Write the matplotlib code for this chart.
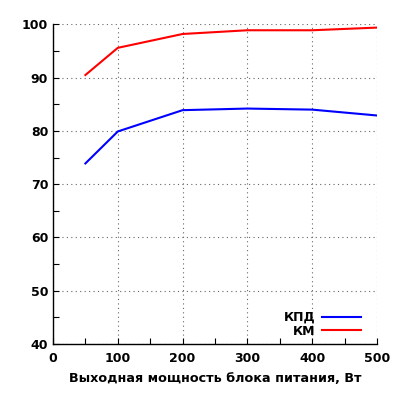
import matplotlib
matplotlib.use("Agg")
import matplotlib.pyplot as plt
from matplotlib.ticker import MultipleLocator

power = [50, 100, 200, 300, 400, 500]
kpd = [73.9, 79.9, 83.9, 84.2, 84.0, 82.9]
km = [90.5, 95.6, 98.2, 98.9, 98.9, 99.4]
x_label = "Выходная мощность блока питания, Вт"

plt.rcParams['font.family'] = ['DejaVu Sans']
plt.rcParams['font.weight'] = 'bold'
plt.rcParams['font.size'] = 9

fig = plt.figure(figsize=(4, 4), dpi=100)
ax = fig.add_axes([0.1325, 0.14, 0.81, 0.799])
ax.plot(power, kpd, color='#0000ff', lw=1.5, label='КПД')
ax.plot(power, km, color='#ff0000', lw=1.5, label='КМ')
ax.set_xlim(0, 500)
ax.set_ylim(40, 100)
ax.xaxis.set_major_locator(MultipleLocator(100))
ax.xaxis.set_minor_locator(MultipleLocator(50))
ax.yaxis.set_major_locator(MultipleLocator(10))
ax.yaxis.set_minor_locator(MultipleLocator(5))
ax.grid(True, which='major', linestyle=(0, (1, 3)), color='#666666', lw=0.8)
for s in ['top', 'right']:
    ax.spines[s].set_visible(False)
ax.spines['left'].set_linewidth(1)
ax.spines['bottom'].set_linewidth(1)
ax.tick_params(which='both', direction='in', length=4, width=0.8, labelsize=9)
ax.tick_params(axis='x', pad=6)
ax.set_xlabel(x_label, fontsize=9.2, fontweight='bold', labelpad=5)
for lab in ax.get_xticklabels() + ax.get_yticklabels():
    lab.set_fontweight('bold')
ax.legend(loc='lower right', bbox_to_anchor=(0.9506, 0.02), frameon=False,
          markerfirst=False, handlelength=3.1, borderaxespad=0, borderpad=0,
          labelspacing=0.05, handletextpad=0.55,
          prop={'weight': 'bold', 'size': 9})
fig.savefig('out.png', dpi=100)
